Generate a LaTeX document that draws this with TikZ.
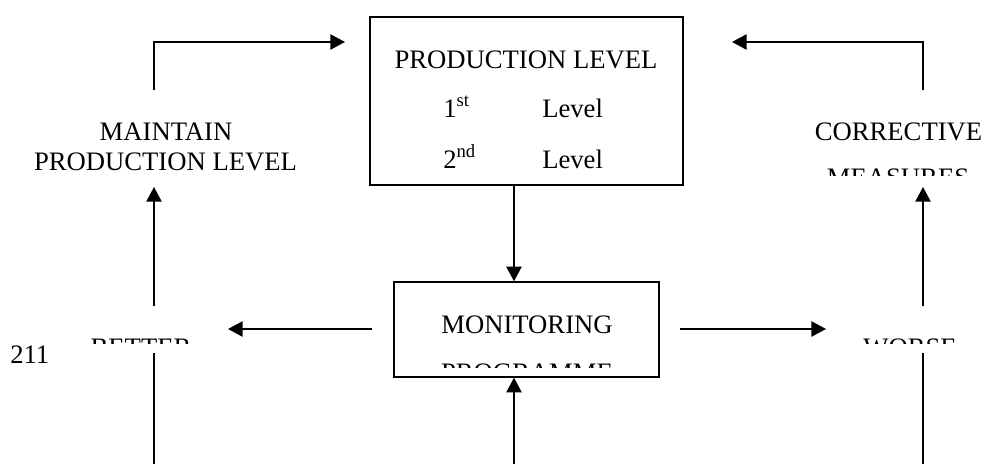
\documentclass[tikz,border=0pt]{standalone}
\usepackage{fontspec}
\setmainfont{Liberation Serif}
\usetikzlibrary{arrows.meta}
\tikzset{
  line/.style={line width=1.1pt},
  arr/.style={line, -{Triangle[length=11pt,width=11.5pt]}},
  boxnode/.style={draw, line width=1.1pt, inner sep=0pt},
  lbl/.style={inner sep=0pt, anchor=base, font=\fontsize{20}{24}\selectfont},
  lblw/.style={lbl, anchor=base west},
}
\begin{document}
\begin{tikzpicture}[x=0.75pt, y=-0.75pt]
\useasboundingbox (0,0) rectangle (984,464);

% boxes
\node[boxnode, minimum width={313*0.75pt}, minimum height={168*0.75pt}] (prod) at (526.5,101) {};
\node[boxnode, minimum width={265*0.75pt}, minimum height={95*0.75pt}] (mon) at (526.5,329.5) {};

% production level box contents
\node[lbl] (ptitle) at (526,68) {PRODUCTION LEVEL};
\node[lblw] (l1) at (443,117) {1\textsuperscript{st}};
\node[lblw] (l1b) at (542,117) {Level};
\node[lblw] (l2) at (443,168) {2\textsuperscript{nd}};
\node[lblw] (l2b) at (542,168) {Level};

% monitoring box contents
\node[lbl] (mtitle) at (527,333) {MONITORING};
\begin{scope}
  \clip (0,0) rectangle (984,367);
  \node[lbl] (mtitle2) at (527,381) {PROGRAMME};
\end{scope}

% side labels
\node[lbl] (maint1) at (166,140) {MAINTAIN};
\node[lbl] (maint2) at (165.5,170) {PRODUCTION LEVEL};
\node[lbl] (corr1) at (898.5,140) {CORRECTIVE};
\begin{scope}
  \clip (0,0) rectangle (984,175);
  \node[lbl] (corr2) at (898,186) {MEASURES};
\end{scope}
\begin{scope}
  \clip (0,0) rectangle (984,343);
  \node[lbl] (better) at (141,356) {BETTER};
  \node[lbl] (worse) at (910,356) {WORSE};
\end{scope}
\node[lblw] (pg) at (10,363) {211};

% connector end points
\coordinate (xm) at (514,0);
\coordinate (botin) at (514,464);
\coordinate (lstart) at (372,329);
\coordinate (lend) at (228,329);
\coordinate (rstart) at (680,329);
\coordinate (rend) at (826,329);
\coordinate (bl1) at (154,353);
\coordinate (bl2) at (154,464);
\coordinate (bl3) at (154,306);
\coordinate (bl4) at (154,187);
\coordinate (tl1) at (154,90);
\coordinate (tl2) at (154,42);
\coordinate (tl3) at (345,42);
\coordinate (br1) at (923,353);
\coordinate (br2) at (923,464);
\coordinate (br3) at (923,306);
\coordinate (br4) at (923,187);
\coordinate (tr1) at (923,90);
\coordinate (tr2) at (923,42);
\coordinate (tr3) at (732,42);

% connectors
\draw[arr] (prod.south -| xm) -- (mon.north -| xm);
\draw[arr] (botin) -- (mon.south -| xm);
\draw[arr] (lstart) -- (lend);
\draw[arr] (rstart) -- (rend);
\draw[line] (bl1) -- (bl2);
\draw[arr] (bl3) -- (bl4);
\draw[arr] (tl1) -- (tl2) -- (tl3);
\draw[line] (br1) -- (br2);
\draw[arr] (br3) -- (br4);
\draw[arr] (tr1) -- (tr2) -- (tr3);
\end{tikzpicture}
\end{document}
